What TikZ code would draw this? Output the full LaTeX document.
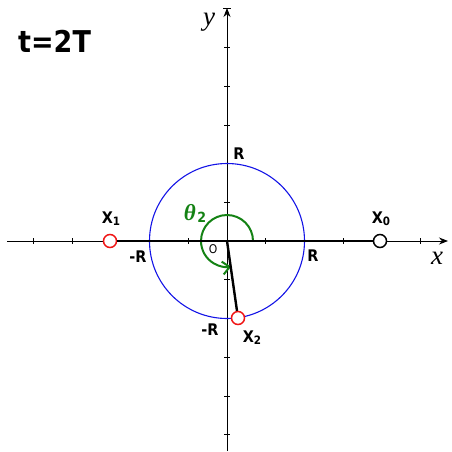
\documentclass[tikz,border=0pt]{standalone}
\usepackage{fontspec}
\setmainfont{DejaVu Sans Condensed}
\newfontfamily\serifit{Liberation Serif}
\usetikzlibrary{arrows.meta}
\definecolor{cblue}{RGB}{20,20,230}
\definecolor{cgreen}{RGB}{20,130,20}
\definecolor{cred}{RGB}{240,20,20}
\begin{document}
\begin{tikzpicture}[x=1pt,y=-1pt,
  axis/.style={line width=0.9pt,-{Stealth[length=9pt,width=7pt]}},
  tick/.style={line width=0.5pt},
  thickline/.style={line width=2.4pt},
  lbl/.style={font=\bfseries\fontsize{16}{16}\selectfont,inner sep=0pt},
  pt/.style={circle,draw,line width=1.5pt,fill=white,minimum size=13pt,inner sep=0pt},
  ax/.style={font=\serifit\itshape\fontsize{27}{27}\selectfont,inner sep=0pt}]
\useasboundingbox (0,0) rectangle (452,451);
% axes
\coordinate (xl) at (7,241);
\coordinate (xr) at (448,241);
\coordinate (yb) at (227,451);
\coordinate (yt) at (227,8);
\coordinate (O) at (227,241);
\draw[axis] (xl) -- (xr);
\draw[axis] (yb) -- (yt);
\draw[line width=0.8pt] (223,8) -- (231,8);
% ticks
\foreach \k in {-5,-4,-3,-2,-1,1,2,3,4,5}{
  \draw[tick] ({227+38.7*\k},238) -- ({227+38.7*\k},244);
  \draw[tick] (224,{241+38.7*\k}) -- (230,{241+38.7*\k});
}
% circle
\draw[cblue,line width=1.1pt] (O) circle (77.5);
% theta arc
\draw[cgreen,line width=2pt,-{Straight Barb[length=7pt,width=13pt,line width=2pt]}]
  ([shift={(0:26)}]O) arc[start angle=0,end angle=-279,radius=26];
% thick lines
\coordinate (X2c) at (238,318);
\draw[thickline] (O) -- (X2c);
\node[pt,draw=cred] (X1) at (110,241) {};
\node[pt,draw=black] (X0) at (380,241) {};
\draw[thickline] (X1) -- (X0);
\node[pt,draw=cred] (X2) at (X2c) {};
% labels
\node[font=\bfseries\fontsize{30}{30}\selectfont,anchor=west,inner sep=0pt] (t) at (18,41) {t=2T};
\node[lbl] (Rt) at (239,154) {R};
\node[lbl] (Rr) at (313,256) {R};
\node[lbl] (Rl) at (138,257) {-R};
\node[lbl] (Rb) at (210,330) {-R};
\node[lbl] (lX1) at (111,219) {X\raisebox{-2pt}{\fontsize{11.5}{11.5}\selectfont 1}};
\node[lbl] (lX0) at (381,219) {X\raisebox{-2pt}{\fontsize{11.5}{11.5}\selectfont 0}};
\node[lbl] (lX2) at (252,338) {X\raisebox{-2pt}{\fontsize{11.5}{11.5}\selectfont 2}};
\node[font=\fontsize{12}{12}\selectfont,inner sep=0pt] (lO) at (213,249) {O};
\node[text=cgreen,inner sep=0pt] (th) at (195,213) {{\serifit\bfseries\itshape\fontsize{23}{23}\selectfont θ}\,\raisebox{-2pt}{\bfseries\fontsize{14}{14}\selectfont 2}};
\node[ax] (lx) at (437,258) {x};
\node[ax] (ly) at (209,22) {y};
\end{tikzpicture}
\end{document}
